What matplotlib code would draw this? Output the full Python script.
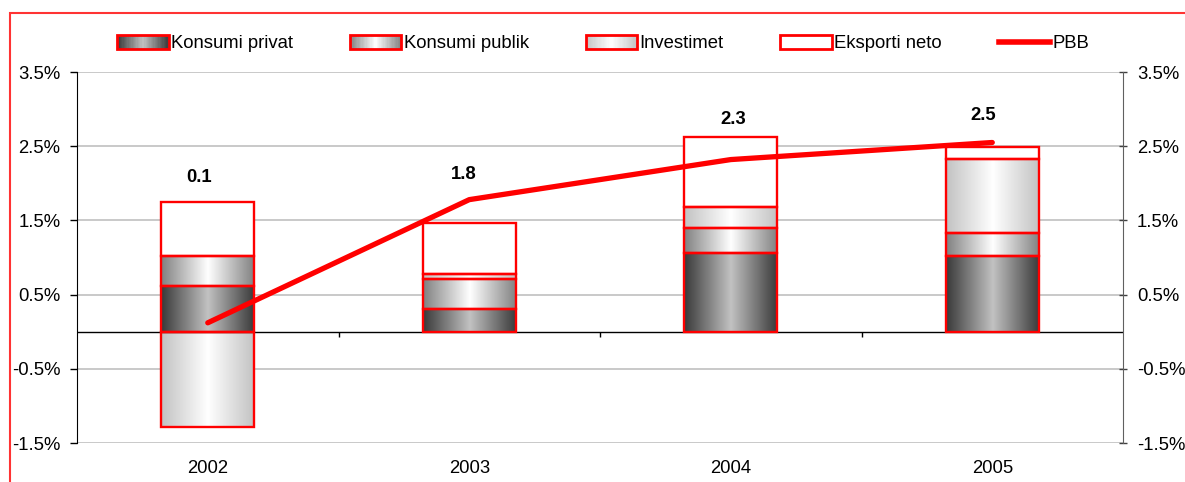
import numpy as np
import matplotlib
matplotlib.use('Agg')
import matplotlib.pyplot as plt
from matplotlib.patches import Rectangle
from matplotlib.lines import Line2D
from matplotlib.legend_handler import HandlerBase

plt.rcParams['font.family'] = ['Liberation Sans', 'DejaVu Sans']

# ---------------- data ----------------
years = ['2002', '2003', '2004', '2005']
konsumi_privat = [0.61, 0.30, 1.06, 1.02]
konsumi_publik = [0.41, 0.41, 0.34, 0.31]
investimet = [-1.28, 0.07, 0.28, 1.00]
eksporti_neto = [0.73, 0.69, 0.95, 0.16]
pbb = [0.12, 1.78, 2.32, 2.55]
pbb_labels = ['0.1', '1.8', '2.3', '2.5']
yticks = [-1.5, -0.5, 0.5, 1.5, 2.5, 3.5]

series_names = ['Konsumi privat', 'Konsumi publik', 'Investimet', 'Eksporti neto']
series_vals = [konsumi_privat, konsumi_publik, investimet, eksporti_neto]
# gradient (edge grey, centre grey)
series_grad = [(0.22, 0.76), (0.50, 1.0), (0.76, 1.0), (1.0, 1.0)]

RED = '#ff0000'
FS = 13.3

fig = plt.figure(figsize=(11.85, 4.82), dpi=100)
ax = fig.add_axes([0.0650, 0.0809, 0.8827, 0.7697])

x = np.arange(len(years))
bw = 0.356
pos_base = np.zeros(len(years))
neg_base = np.zeros(len(years))


def grad_row(edge, center, n=96):
    t = np.abs((np.arange(n) + 0.5) / n - 0.5) * 2
    g = center + (edge - center) * t
    return np.dstack([g, g, g]).reshape(1, n, 3)


for vals, (edge, center) in zip(series_vals, series_grad):
    vals = np.array(vals, dtype=float)
    bottoms = np.where(vals >= 0, pos_base, neg_base)
    ax.bar(x, vals, bw, bottom=bottoms, facecolor='none', edgecolor=RED,
           linewidth=1.7, zorder=3)
    for xi, v, b in zip(x, vals, bottoms):
        y0, y1 = b, b + v
        ax.imshow(grad_row(edge, center), extent=[xi - bw / 2, xi + bw / 2, min(y0, y1), max(y0, y1)],
                  aspect='auto', interpolation='bilinear', zorder=2.5)
    pos_base = pos_base + np.where(vals >= 0, vals, 0)
    neg_base = neg_base + np.where(vals < 0, vals, 0)

ax.plot(x, pbb, color=RED, lw=3.8, solid_capstyle='round', zorder=5)

label_y = [2.08, 2.12, 2.86, 2.92]
label_dx = [-0.035, -0.02, 0.01, -0.035]
for xi, lab, ly, dx in zip(x, pbb_labels, label_y, label_dx):
    ax.text(xi + dx, ly, lab, ha='center', va='center', fontsize=FS, fontweight='bold', zorder=6)

ax.set_xlim(-0.5, len(years) - 0.5)
ax.set_ylim(-1.5, 3.5)
ax.set_yticks(yticks)
ax.set_yticklabels([f'{v:.1f}%' for v in yticks])
ax.yaxis.grid(True, color='#c0c0c0', lw=1.2)
ax.set_axisbelow(True)
ax.axhline(0, color='black', lw=1.0, zorder=2.8)
ax.vlines(x[:-1] + 0.5, -0.07, 0, color='black', lw=1.0, zorder=2.8)

ax.set_xticks(x)
ax.set_xticklabels(years, fontsize=FS)
ax.tick_params(axis='x', length=0, pad=12)
ax.tick_params(axis='y', labelsize=FS, length=5, width=1, direction='out', pad=7)
for s in ['top', 'bottom', 'right']:
    ax.spines[s].set_visible(False)
ax.spines['left'].set_color('black')

ax2 = ax.twinx()
ax2.set_ylim(-1.5, 3.5)
ax2.set_yticks(yticks)
ax2.set_yticklabels([f'{v:.1f}%' for v in yticks])
ax2.tick_params(axis='y', labelsize=FS, length=6, width=1, direction='inout', pad=7, color='#404040')
for s in ['top', 'bottom', 'left']:
    ax2.spines[s].set_visible(False)
ax2.spines['right'].set_color('#606060')


class GradHandler(HandlerBase):
    def __init__(self, edge, center):
        super().__init__()
        self.edge, self.center = edge, center

    def create_artists(self, legend, orig_handle, xdescent, ydescent, width, height, fontsize, trans):
        arts = []
        n = 40
        for i in range(n):
            t = abs((i + 0.5) / n - 0.5) * 2
            g = self.center + (self.edge - self.center) * t
            arts.append(Rectangle((-xdescent + width * i / n, -ydescent), width / n * 1.1, height,
                                  facecolor=(g, g, g), edgecolor='none', transform=trans))
        arts.append(Rectangle((-xdescent, -ydescent), width, height, facecolor='none',
                              edgecolor=RED, lw=2, transform=trans))
        return arts


handles = []
hmap = {}
for name, (edge, center) in zip(series_names, series_grad):
    h = Rectangle((0, 0), 1, 1)
    handles.append(h)
    hmap[h] = GradHandler(edge, center)
handles.append(Line2D([], [], color=RED, lw=4))
labels = series_names + ['PBB']
fig.legend(handles, labels, handler_map=hmap, loc='center', bbox_to_anchor=(0.509, 0.909),
           ncol=5, frameon=False, fontsize=FS, handlelength=2.8, handleheight=0.75,
           handletextpad=0.12, columnspacing=3.07)

fig.add_artist(Rectangle((10 / 1185, -0.1), 1.2, 1 - 13 / 482 + 0.1, transform=fig.transFigure,
                         fill=False, edgecolor='#ff3333', lw=1.5))

fig.savefig('out.png', dpi=100)
